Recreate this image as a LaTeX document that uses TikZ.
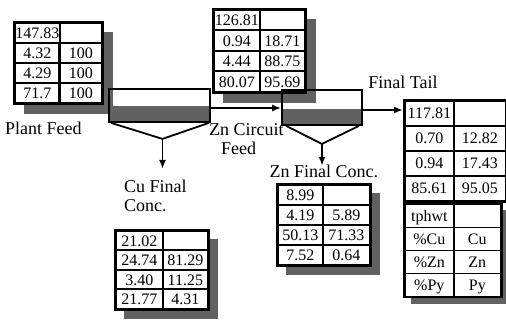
\documentclass[tikz,border=0pt]{standalone}
\usepackage{fontspec}
\setmainfont{Liberation Serif}
\usetikzlibrary{positioning,matrix,shadows,calc,arrows.meta}

\tikzset{
  datatab/.style={matrix of nodes, nodes in empty cells, inner sep=0pt,
    fill=white, draw, line width=1.8pt, column sep=-1.8pt, row sep=-1.8pt,
    nodes={draw, line width=1.8pt, inner sep=0.5pt, anchor=center,
      text height=11pt, text depth=0pt, font=\fontsize{16}{16}\selectfont}},
  tabsize/.style n args={3}{column 1/.style={nodes={minimum width=#1}},
    column 2/.style={nodes={minimum width=#2}}, nodes={minimum height=#3}},
  shadowed/.style={drop shadow={shadow xshift=#1, shadow yshift=-#1,
    fill=black!62, opacity=1}},
  shadowed/.default=9pt,
  lbl/.style={inner sep=0pt, font=\fontsize{18}{19}\selectfont},
  tank/.style={draw, line width=1.8pt, inner sep=0pt,
    path picture={\fill[black!62] (path picture bounding box.south west)
      rectangle ([yshift=16pt]path picture bounding box.south east);}},
  flow/.style={line width=1.8pt, -{Latex[length=9pt,width=7pt]}}
}

\begin{document}
\begin{tikzpicture}[x=1pt,y=-1pt]
\useasboundingbox (0,0) rectangle (506,323);

% stream tables
\matrix[datatab, tabsize={44pt}{42pt}{20pt}, shadowed=10pt, anchor=north west] (feed) at (13,21) {
147.83 & \\
4.32 & 100 \\
4.29 & 100 \\
71.7 & 100 \\
};
\matrix[datatab, tabsize={46pt}{45pt}{20.5pt}, shadowed=10pt, anchor=north west] (znfeed) at (212,8) {
126.81 & \\
0.94 & 18.71 \\
4.44 & 88.75 \\
80.07 & 95.69 \\
};
\matrix[datatab, tabsize={47pt}{45pt}{19.5pt}, shadowed=9pt, anchor=north west] (cuconc) at (114,229) {
21.02 & \\
24.74 & 81.29 \\
3.40 & 11.25 \\
21.77 & 4.31 \\
};
\matrix[datatab, tabsize={45pt}{47pt}{20pt}, shadowed=9pt, anchor=north west] (znconc) at (276,183) {
8.99 & \\
4.19 & 5.89 \\
50.13 & 71.33 \\
7.52 & 0.64 \\
};
\matrix[datatab, tabsize={49pt}{52pt}{25pt}, anchor=north west] (tail) at (403,99) {
117.81 & \\
0.70 & 12.82 \\
0.94 & 17.43 \\
85.61 & 95.05 \\
};
\matrix[datatab, tabsize={49pt}{47pt}{23pt}, shadowed=7pt, anchor=north west] (key) at (tail.south west) {
tphwt & \\
\%Cu & Cu \\
\%Zn & Zn \\
\%Py & Py \\
};

% flotation cells
\node[tank, minimum width=101pt, minimum height=33pt] (cucell) at (159.5,105.5) {};
\node[tank, minimum width=80pt, minimum height=35pt] (zncell) at (322,107.5) {};
\coordinate (cuapex) at ($(cucell.south)+(3,16)$);
\coordinate (znapex) at ($(zncell.south)+(0,18)$);
\draw[line width=1.8pt] ([xshift=3pt]cucell.south west) -- (cuapex) -- ([xshift=-2pt]cucell.south east);
\draw[line width=1.8pt] ([xshift=5pt]zncell.south west) -- (znapex) -- ([xshift=-4pt]zncell.south east);
\draw[flow] (cuapex) -- ++(0,30);
\draw[flow] (znapex) -- ++(0,22);
\draw[flow] ([yshift=-2.5pt]cucell.east) -- ([yshift=-2.5pt]cucell.east -| zncell.west);
\draw[flow] ([yshift=-2.5pt]zncell.east) -- ([yshift=-2.5pt]zncell.east -| tail.west);

% labels
\node[lbl, below=17pt of feed.south west, anchor=north west, xshift=-8pt] (feedlbl) {Plant Feed};
\node[lbl, below=30pt of znfeed.south west, anchor=north west, xshift=-3pt, align=left] (znfeedlbl) {Zn Circuit\\\hspace*{12pt}Feed};
\node[lbl, align=left, anchor=north west] (cuconclbl) at (124,180) {Cu Final\\Conc.};
\node[lbl, above=5pt of znconc] (znconclbl) {Zn Final Conc.};
\node[lbl, above=10pt of tail.north west] (taillbl) {Final Tail};
\end{tikzpicture}
\end{document}
